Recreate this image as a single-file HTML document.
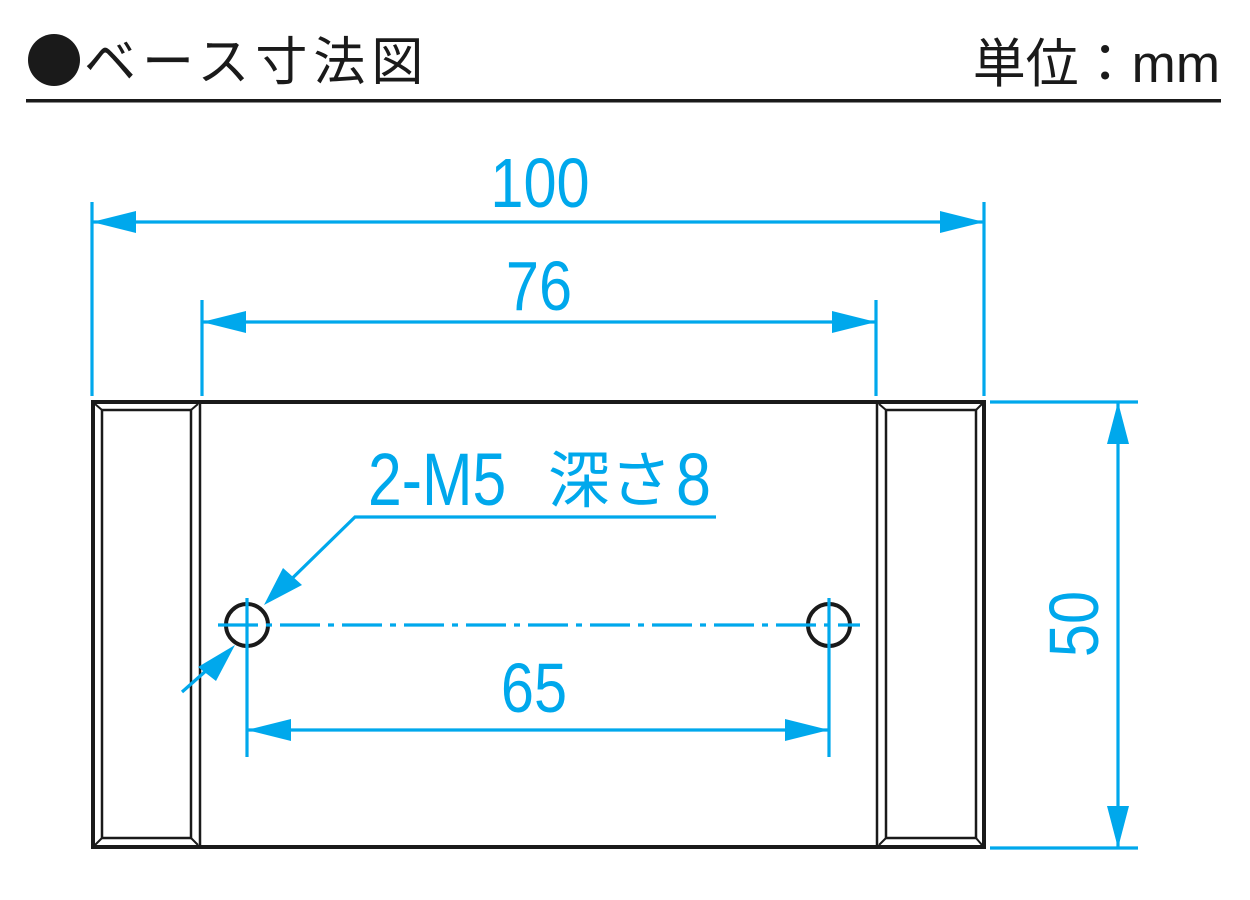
<!DOCTYPE html>
<html><head><meta charset="utf-8"><style>
html,body{margin:0;padding:0;background:#fff;width:1250px;height:900px;overflow:hidden}
svg{display:block}
</style></head><body>
<svg width="1250" height="900" viewBox="0 0 1250 900" xmlns="http://www.w3.org/2000/svg">
<!-- header -->
<circle cx="54" cy="60" r="26" fill="#1a1a1a"/>
<text x="84" y="80" font-family="'Noto Sans CJK JP',sans-serif" font-size="52" fill="#1a1a1a" letter-spacing="6">ベース寸法図</text>
<text x="1220" y="82" text-anchor="end" font-family="'Liberation Sans','Noto Sans CJK JP',sans-serif" font-size="53" fill="#1a1a1a">単位：mm</text>
<rect x="26" y="99" width="1195" height="3.5" fill="#1a1a1a"/>

<!-- part -->
<g fill="none" stroke="#1a1a1a">
<rect x="93" y="402" width="891" height="445" stroke-width="4"/>
<line x1="200" y1="402" x2="200" y2="847" stroke-width="2.5"/>
<line x1="877" y1="402" x2="877" y2="847" stroke-width="2.5"/>
<rect x="102" y="410" width="89" height="428" stroke-width="2.5"/>
<rect x="886" y="410" width="90" height="428" stroke-width="2.5"/>
<g stroke-width="2">
<line x1="95" y1="404" x2="102" y2="410"/><line x1="198" y1="404" x2="191" y2="410"/>
<line x1="95" y1="845" x2="102" y2="838"/><line x1="198" y1="845" x2="191" y2="838"/>
<line x1="879" y1="404" x2="886" y2="410"/><line x1="982" y1="404" x2="976" y2="410"/>
<line x1="879" y1="845" x2="886" y2="838"/><line x1="982" y1="845" x2="976" y2="838"/>
</g>
<circle cx="247" cy="625" r="21" stroke-width="4"/>
<circle cx="829" cy="625" r="21" stroke-width="4"/>
</g>

<!-- dimensions -->
<g stroke="#00a8ec" stroke-width="3.2" fill="none">
<line x1="92" y1="202" x2="92" y2="396"/>
<line x1="984" y1="202" x2="984" y2="396"/>
<line x1="92" y1="222" x2="984" y2="222"/>
<line x1="202" y1="300" x2="202" y2="396"/>
<line x1="876" y1="300" x2="876" y2="396"/>
<line x1="202" y1="322" x2="876" y2="322"/>
<line x1="990" y1="402" x2="1138" y2="402"/>
<line x1="990" y1="848" x2="1138" y2="848"/>
<line x1="1118" y1="402" x2="1118" y2="848"/>
<line x1="218" y1="625" x2="860" y2="625" stroke-dasharray="40,8,6,8"/>
<line x1="247" y1="598" x2="247" y2="757"/>
<line x1="829" y1="598" x2="829" y2="757"/>
<line x1="247" y1="730" x2="829" y2="730"/>
<polyline points="716,517 355,517 270,600"/>
<line x1="182" y1="692" x2="225" y2="654"/>
</g>
<g fill="#00a8ec">
<polygon points="92,222 136,211 136,233"/>
<polygon points="984,222 940,211 940,233"/>
<polygon points="202,322 246,311 246,333"/>
<polygon points="876,322 832,311 832,333"/>
<polygon points="1118,402 1107,444 1129,444"/>
<polygon points="1118,848 1107,806 1129,806"/>
<polygon points="247,730 291,719 291,741"/>
<polygon points="829,730 785,719 785,741"/>
<polygon points="264,605 283,568 302,585"/>
<polygon points="235,645 216,681 198,667"/>
</g>
<g font-family="'Liberation Sans','Noto Sans CJK JP',sans-serif" fill="#00a8ec">
<text transform="translate(540,207) scale(0.85,1)" text-anchor="middle" font-size="70">100</text>
<text transform="translate(539,310) scale(0.85,1)" text-anchor="middle" font-size="70">76</text>
<text transform="translate(534,712) scale(0.85,1)" text-anchor="middle" font-size="70">65</text>
<text transform="translate(1098,624) rotate(-90) scale(0.85,1)" text-anchor="middle" font-size="70">50</text>
<text transform="translate(368,505) scale(0.82,1)" font-size="74">2-M5</text>
<text x="548" y="502" font-family="'Noto Sans CJK JP',sans-serif" font-size="62">深さ</text>
<text transform="translate(676,505) scale(0.85,1)" font-size="74">8</text>
</g>
</svg>
</body></html>
